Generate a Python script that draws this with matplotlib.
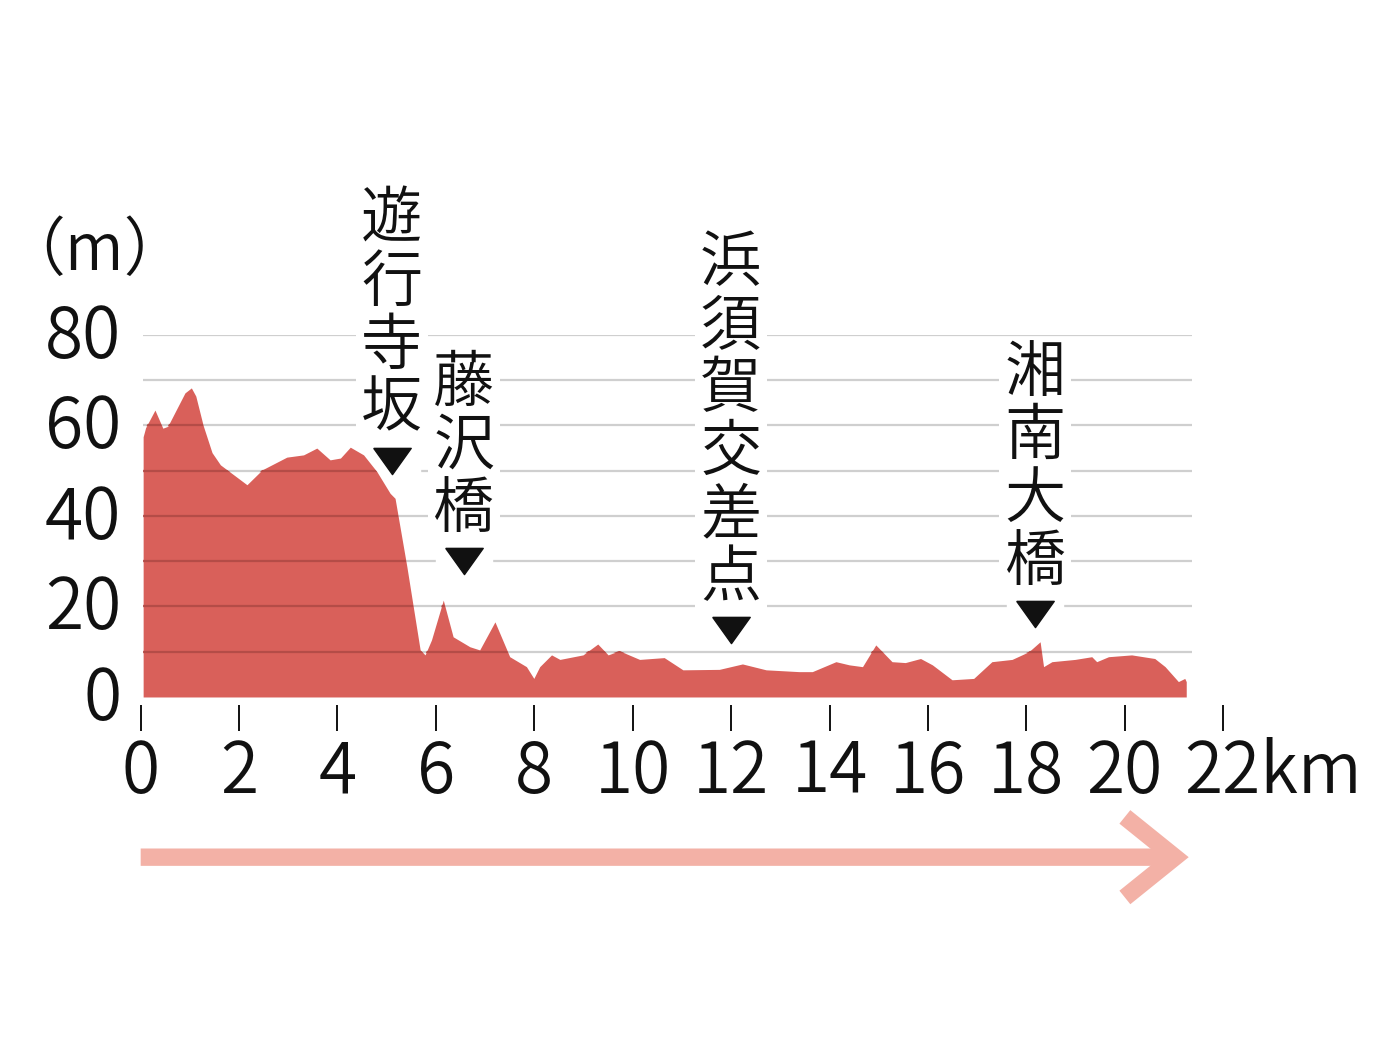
import matplotlib
matplotlib.use("Agg")
import matplotlib.pyplot as plt
import matplotlib.transforms as mtransforms
from matplotlib.path import Path
from matplotlib.markers import MarkerStyle

plt.rcParams['font.family'] = ['Noto Sans CJK JP', 'DejaVu Sans']

# elevation profile
dist_km = [0.05, 0.10, 0.29, 0.45, 0.55, 0.72, 0.90, 1.03, 1.12, 1.27, 1.45, 1.62,
           2.16, 2.47, 2.97, 3.31, 3.58, 3.85, 4.06, 4.26, 4.53, 4.80, 5.07, 5.17,
           5.41, 5.68, 5.78, 5.91, 6.15, 6.35, 6.69, 6.89, 7.20, 7.50, 7.84, 7.99,
           8.11, 8.35, 8.52, 8.99, 9.29, 9.50, 9.73, 10.14, 10.64, 11.02, 11.76,
           12.23, 12.71, 13.38, 13.65, 14.13, 14.40, 14.67, 14.94, 15.27, 15.54,
           15.85, 16.09, 16.49, 16.93, 17.30, 17.71, 18.05, 18.28, 18.35, 18.52,
           18.99, 19.33, 19.43, 19.67, 20.14, 20.61, 20.82, 21.09, 21.22, 21.25]
elev_m = [57.5, 59.5, 63.4, 59.4, 59.8, 63.4, 67.2, 68.3, 66.5, 60.0, 54.0, 51.3,
          46.9, 50.2, 53.0, 53.5, 55.0, 52.4, 52.8, 55.2, 53.5, 49.8, 45.0, 43.9,
          28.8, 10.4, 9.3, 12.6, 21.4, 13.3, 11.1, 10.4, 16.6, 8.9, 6.7, 4.1,
          6.7, 9.3, 8.3, 9.3, 11.7, 9.3, 10.2, 8.3, 8.7, 6.0, 6.1,
          7.3, 6.0, 5.6, 5.6, 7.8, 7.1, 6.7, 11.5, 7.8, 7.6,
          8.5, 7.1, 3.8, 4.1, 7.8, 8.3, 10.0, 12.2, 6.7, 7.8,
          8.3, 8.9, 7.8, 8.9, 9.3, 8.5, 6.7, 3.4, 4.1, 3.4]

spot_names = ['遊行寺坂', '藤沢橋', '浜須賀交差点', '湘南大橋']
spot_km = [5.10, 6.57, 11.99, 18.18]
spot_mark_m = [52.2, 30.1, 14.8, 18.3]   # height of the ▼ marks

x_ticks = list(range(0, 23, 2))
y_ticks = [0, 20, 40, 60, 80]
grid_levels = [10, 20, 30, 40, 50, 60, 70, 80]

fill_color = '#d9605a'
arrow_color = '#f3b1a6'
ink = '#111111'
wt = 350

fig = plt.figure(figsize=(13.86, 10.53), dpi=100)
ax = fig.add_axes([0.1015, 0.3381, 0.7810, 0.3438])
ax.set_xlim(0, 22)
ax.set_ylim(0, 80)

# grid below the profile (light) and on top of it (darker, clipped to the fill)
ax.hlines(grid_levels, 0.05, 21.37, colors='#cfcfcf', lw=1.6, zorder=1)
tri = MarkerStyle(Path([(-1, 0.7), (1, 0.7), (0, -0.7), (-1, 0.7)]))
box = MarkerStyle(Path([(-1, -0.5), (1, -0.5), (1, 0.5), (-1, 0.5), (-1, -0.5)]))
ax.plot(spot_km, spot_mark_m, ls='none', marker=box, ms=40, color='white',
        mec='white', zorder=1.5, clip_on=False)
area = ax.fill_between(dist_km, elev_m, 0, color=fill_color, lw=0, zorder=2)
over = ax.hlines(grid_levels, 0.05, 21.37, colors='#b44c47', lw=1.6, zorder=2.5)
over.set_clip_path(area.get_paths()[0], ax.transData)

# spot markers and vertical labels
ax.plot(spot_km, spot_mark_m, ls='none', marker=tri, ms=27, color=ink,
        zorder=4, clip_on=False)
for name, x, y in zip(spot_names, spot_km, spot_mark_m):
    ax.annotate('\n'.join(name), xy=(x, y), xytext=(0, 14), textcoords='offset points',
                ha='center', va='bottom', fontsize=44, linespacing=1.0,
                fontweight=wt, color=ink, zorder=4, annotation_clip=False,
                bbox=dict(facecolor='white', edgecolor='none', pad=4))

for s in ax.spines.values():
    s.set_visible(False)
ax.spines['bottom'].set_position(('outward', 5.8))

ax.set_xticks(x_ticks, [str(t) for t in x_ticks[:-1]] + ['22km'])
ax.set_yticks(y_ticks, [str(t) for t in y_ticks])
ax.tick_params(axis='x', direction='out', length=18.7, width=1.4, color=ink,
               labelsize=50, pad=4, labelcolor=ink)
ax.tick_params(axis='y', length=0, labelsize=50, pad=14, labelcolor=ink)
for lb in ax.get_xticklabels() + ax.get_yticklabels():
    lb.set_fontweight(wt)

# shift "22km" so that "22" sits on its tick, lift y labels a little
shift_km = mtransforms.ScaledTranslation(0.50, 0, fig.dpi_scale_trans)
lbl = ax.get_xticklabels()[-1]
lbl.set_transform(lbl.get_transform() + shift_km)
lift = mtransforms.ScaledTranslation(0, 0.05, fig.dpi_scale_trans)
for lb in ax.get_yticklabels():
    lb.set_transform(lb.get_transform() + lift)

# unit label
fig.text(1 / 1386, 1 - 252 / 1053, '（m）', fontsize=46, ha='left', va='center',
         color=ink, fontweight=wt)

# direction arrow
ax.annotate('', xy=(21.3, -35.4), xytext=(0, -35.4), xycoords='data',
            annotation_clip=False,
            arrowprops=dict(arrowstyle='->,head_length=3.6,head_width=2.9',
                            lw=12.5, color=arrow_color, shrinkA=0, shrinkB=0,
                            joinstyle='miter', capstyle='butt'))

fig.savefig('out.png', dpi=100)
